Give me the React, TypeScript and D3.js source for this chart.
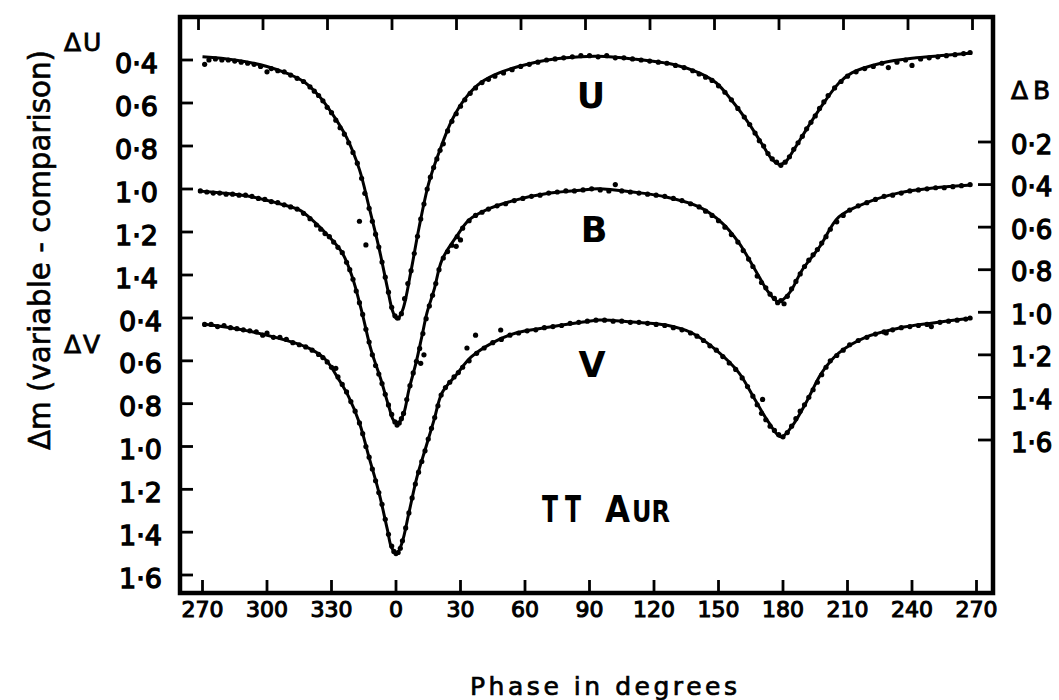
import React from "react";
import * as d3 from "d3";

// phase axis runs from 270 (= -90) through 0 to 270
const phaseTicks = [-90, -60, -30, 0, 30, 60, 90, 120, 150, 180, 210, 240, 270];
const uTicks = [0.4, 0.6, 0.8, 1.0, 1.2, 1.4];
const vTicks = [0.4, 0.6, 0.8, 1.0, 1.2, 1.4, 1.6];
const bTicks = [0.2, 0.4, 0.6, 0.8, 1.0, 1.2, 1.4, 1.6];

// fitted light curves, [phase, delta mag]
const uFit: [number, number][] = [
  [-90, 0.385], [-75, 0.4], [-60, 0.43], [-50, 0.465], [-43, 0.5], [-36, 0.565], [-30, 0.645],
  [-23, 0.76], [-17, 0.91], [-12.5, 1.085], [-8, 1.27], [-4, 1.46], [-1.5, 1.57], [0.5, 1.605],
  [3, 1.565], [7, 1.38], [10.7, 1.18], [15.3, 0.97], [20, 0.83], [26, 0.68], [32.5, 0.575],
  [39.5, 0.505], [48, 0.46], [63, 0.415], [79, 0.39], [94, 0.383], [110, 0.395], [130, 0.423],
  [141, 0.46], [149, 0.507], [156, 0.586], [164, 0.694], [170, 0.787], [174.5, 0.857], [178, 0.885],
  [181, 0.876], [184, 0.834], [190.7, 0.726], [196.7, 0.633], [206, 0.507], [212, 0.46],
  [226, 0.414], [242, 0.39], [257, 0.377], [268, 0.367],
];
const bFit: [number, number][] = [
  [-92, 0.43], [-69, 0.454], [-52, 0.496], [-45, 0.519], [-39, 0.566], [-31, 0.646], [-25, 0.721],
  [-20.5, 0.829], [-16, 0.993], [-11.6, 1.177], [-7, 1.317], [-3.3, 1.444], [-1, 1.51], [1.2, 1.52],
  [3.7, 1.472], [6, 1.364], [9.3, 1.238], [12, 1.115], [14.4, 1.003], [17.7, 0.895], [21.4, 0.754],
  [28, 0.646], [34, 0.566], [42, 0.519], [56, 0.472], [71.6, 0.44], [87, 0.425], [94, 0.42],
  [110, 0.435], [125.6, 0.458], [141, 0.505], [151.6, 0.58], [159.5, 0.674], [167, 0.8],
  [173.5, 0.909], [178, 0.951], [183, 0.909], [189, 0.8], [197, 0.693], [206, 0.552],
  [218.6, 0.486], [234, 0.439], [249.8, 0.416], [268, 0.402],
];
const vFit: [number, number][] = [
  [-90, 0.428], [-69, 0.46], [-46, 0.52], [-39, 0.549], [-32.6, 0.596], [-26.5, 0.689], [-22, 0.768],
  [-17, 0.89], [-12.6, 1.048], [-7.9, 1.216], [-4, 1.388], [-1.9, 1.475], [0.5, 1.496], [2.8, 1.449],
  [6, 1.31], [9.8, 1.141], [14, 1.0], [17.7, 0.876], [21.4, 0.75], [28, 0.666], [35, 0.582],
  [44.6, 0.517], [55.8, 0.47], [71.6, 0.442], [87, 0.419], [94.4, 0.409], [110, 0.419],
  [125.6, 0.433], [137.7, 0.47], [148.8, 0.549], [159.5, 0.656], [167, 0.782], [173.5, 0.89],
  [179, 0.955], [184, 0.908], [190.7, 0.796], [198, 0.656], [206, 0.563], [218.6, 0.489],
  [234, 0.447], [249.8, 0.423], [268, 0.4],
];

// observations
const uObs: [number, number][] = [
  [-89, 0.42], [-87, 0.4], [-84, 0.395], [-81, 0.4], [-78, 0.4], [-75, 0.405], [-72, 0.41], [-69, 0.415],
  [-66, 0.42], [-63, 0.43], [-60, 0.455], [-58, 0.44], [-55, 0.45], [-52, 0.455], [-49, 0.47],
  [-46, 0.485], [-43, 0.5], [-40, 0.525], [-38, 0.545], [-36, 0.565], [-34, 0.59], [-32, 0.62],
  [-30, 0.645], [-28, 0.68], [-26, 0.715], [-24, 0.745], [-22, 0.785], [-20, 0.83], [-18, 0.88],
  [-17, 1.15], [-16, 0.95], [-14, 1.26], [-14.5, 1.02], [-12.5, 1.09], [-11, 1.15], [-9.5, 1.21],
  [-8, 1.27], [-6.5, 1.34], [-5, 1.41], [-3.5, 1.48], [-2, 1.55], [-0.5, 1.59], [1, 1.6], [2.5, 1.58],
  [4, 1.51], [5.5, 1.44], [7, 1.38], [8.5, 1.3], [10, 1.22], [11.5, 1.14], [13, 1.07], [14.5, 1.0],
  [16, 0.945], [17.5, 0.9], [19, 0.86], [20.5, 0.82], [22, 0.79], [24, 0.73], [26, 0.685], [28, 0.65],
  [30, 0.615], [32, 0.585], [34.5, 0.555], [37, 0.53], [40, 0.505], [43, 0.49], [46, 0.475], [50, 0.46],
  [54, 0.445], [58, 0.43], [62, 0.42], [66, 0.41], [70, 0.4], [74, 0.395], [78, 0.39], [82, 0.385],
  [86, 0.38], [90, 0.38], [94, 0.385], [98, 0.38], [102, 0.39], [106, 0.39], [110, 0.395], [114, 0.4],
  [118, 0.405], [122, 0.41], [126, 0.415], [130, 0.425], [134, 0.435], [138, 0.45], [141, 0.465],
  [144, 0.48], [147, 0.495], [150, 0.52], [153, 0.55], [156, 0.585], [159, 0.625], [162, 0.665],
  [164.5, 0.7], [167, 0.74], [169, 0.775], [171, 0.8], [173, 0.835], [175, 0.86], [177, 0.875],
  [179, 0.89], [181, 0.875], [183, 0.85], [185, 0.815], [187, 0.785], [189, 0.755], [191, 0.72],
  [193, 0.69], [195, 0.66], [197, 0.625], [199, 0.595], [201, 0.565], [204, 0.53], [207, 0.5],
  [210, 0.475], [214, 0.455], [218, 0.44], [222, 0.43], [226, 0.415], [229, 0.435], [233, 0.41],
  [237, 0.4], [240, 0.425], [244, 0.395], [248, 0.39], [252, 0.385], [256, 0.38], [260, 0.375],
  [264, 0.37], [267, 0.365],
];
const bObs: [number, number][] = [
  [-91, 0.43], [-88, 0.435], [-85, 0.44], [-82, 0.44], [-79, 0.445], [-76, 0.445], [-73, 0.45],
  [-70, 0.45], [-67, 0.455], [-64, 0.465], [-61, 0.47], [-58, 0.48], [-55, 0.485], [-52, 0.495],
  [-49, 0.505], [-46, 0.515], [-43, 0.535], [-40, 0.56], [-37, 0.59], [-35, 0.61], [-33, 0.63],
  [-31, 0.645], [-29, 0.67], [-27, 0.695], [-25, 0.72], [-23, 0.765], [-21.5, 0.8], [-20, 0.845],
  [-18.5, 0.9], [-17, 0.955], [-15.5, 1.01], [-14, 1.08], [-12.5, 1.14], [-11, 1.2], [-9.5, 1.25],
  [-8, 1.29], [-6.5, 1.335], [-5, 1.385], [-3.5, 1.435], [-2, 1.48], [-0.5, 1.515], [0.5, 1.53],
  [1.5, 1.52], [2.5, 1.5], [3.5, 1.475], [5, 1.41], [6.5, 1.345], [8, 1.285], [9.5, 1.23], [11, 1.17],
  [11.5, 1.24], [12.5, 1.1], [13, 1.2], [14, 1.03], [15.5, 0.97], [17, 0.92], [18.5, 0.865], [20, 0.8],
  [22, 0.745], [24, 0.715], [26, 0.685], [28, 0.69], [28.5, 0.645], [30, 0.66], [31, 0.605],
  [34, 0.57], [37, 0.545], [40, 0.53], [43, 0.515], [47, 0.5], [51, 0.49], [55, 0.475], [59, 0.465],
  [63, 0.455], [67, 0.45], [71, 0.44], [75, 0.435], [79, 0.43], [83, 0.43], [87, 0.425], [91, 0.42],
  [95, 0.425], [99, 0.43], [102, 0.4], [105, 0.43], [109, 0.435], [113, 0.44], [117, 0.445],
  [121, 0.45], [125, 0.455], [129, 0.465], [133, 0.475], [137, 0.49], [141, 0.505], [144, 0.525],
  [147, 0.545], [150, 0.57], [153, 0.6], [156, 0.635], [159, 0.67], [161.5, 0.71], [164, 0.75],
  [166, 0.785], [168, 0.83], [170, 0.86], [172, 0.885], [174, 0.915], [176, 0.935], [177.5, 0.955],
  [179, 0.945], [180.5, 0.96], [182, 0.925], [184, 0.89], [186, 0.855], [188, 0.82], [190, 0.785],
  [192, 0.755], [194, 0.73], [196, 0.705], [198, 0.675], [200, 0.645], [202, 0.61], [205, 0.575],
  [208, 0.545], [211, 0.52], [215, 0.5], [219, 0.485], [223, 0.47], [227, 0.455], [231, 0.45],
  [235, 0.44], [239, 0.43], [243, 0.425], [247, 0.42], [251, 0.415], [255, 0.415], [259, 0.41],
  [263, 0.405], [267, 0.4],
];
const vObs: [number, number][] = [
  [-89, 0.43], [-86, 0.43], [-83, 0.44], [-80, 0.435], [-77, 0.445], [-74, 0.45], [-71, 0.455],
  [-68, 0.46], [-65, 0.465], [-62, 0.48], [-60, 0.47], [-57, 0.49], [-54, 0.49], [-51, 0.5],
  [-48, 0.515], [-45, 0.525], [-42, 0.535], [-39, 0.55], [-36, 0.57], [-34, 0.585], [-32, 0.605],
  [-30, 0.63], [-28, 0.635], [-27, 0.675], [-25, 0.71], [-23, 0.745], [-21, 0.79], [-19, 0.835],
  [-17, 0.89], [-15.5, 0.94], [-14, 1.0], [-12.5, 1.05], [-11, 1.105], [-9.5, 1.16], [-8, 1.215],
  [-6.5, 1.27], [-5, 1.34], [-3.5, 1.41], [-2, 1.465], [-1, 1.49], [0, 1.5], [1, 1.495], [2, 1.475],
  [3, 1.44], [4.5, 1.38], [6, 1.31], [7.5, 1.24], [9, 1.175], [10.5, 1.12], [12, 1.07], [13.5, 1.02],
  [15, 0.965], [16.5, 0.915], [18, 0.865], [19.5, 0.81], [21, 0.76], [23, 0.725], [25, 0.7],
  [27, 0.675], [29, 0.655], [31, 0.63], [33, 0.54], [34, 0.6], [37, 0.48], [37.5, 0.565], [41, 0.54],
  [45, 0.515], [48.7, 0.456], [49, 0.5], [53, 0.48], [57, 0.47], [61, 0.46], [65, 0.455], [69, 0.445],
  [73, 0.44], [77, 0.435], [81, 0.425], [85, 0.42], [89, 0.415], [93, 0.41], [97, 0.41], [101, 0.415],
  [105, 0.415], [109, 0.42], [113, 0.42], [117, 0.425], [121, 0.43], [125, 0.435], [129, 0.445],
  [133, 0.455], [137, 0.47], [140, 0.485], [143, 0.505], [146, 0.53], [149, 0.55], [152, 0.58],
  [155, 0.61], [158, 0.64], [161, 0.68], [163.5, 0.72], [166, 0.765], [168, 0.805], [170, 0.845],
  [170.5, 0.78], [172, 0.875], [174, 0.905], [176, 0.925], [178, 0.945], [180, 0.955], [182, 0.935],
  [184, 0.905], [186, 0.87], [188, 0.835], [190, 0.805], [192, 0.77], [194, 0.735], [196, 0.7],
  [198, 0.665], [200, 0.63], [202, 0.6], [205, 0.575], [208, 0.55], [211, 0.525], [215, 0.505],
  [219, 0.49], [223, 0.475], [227, 0.465], [228, 0.47], [231, 0.455], [235, 0.445], [239, 0.44],
  [243, 0.435], [247, 0.43], [249, 0.44], [253, 0.42], [257, 0.415], [261, 0.41], [265, 0.405],
  [267, 0.4],
];

const FONT = "'DejaVu Sans', sans-serif";

export default function App() {
  const width = 1059;
  const height = 700;
  const frame = { left: 180, right: 993, top: 17, bottom: 593 };

  const x = d3.scaleLinear().domain([-90, 270]).range([202.5, 976.5]);
  const yU = d3.scaleLinear().domain([0.4, 1.4]).range([60, 275]);
  const yV = d3.scaleLinear().domain([0.4, 1.6]).range([318, 575]);
  const yB = d3.scaleLinear().domain([0.2, 1.6]).range([142, 440]);

  const fmt = (v: number) => d3.format(".1f")(v).replace(".", "\u00b7");
  const phaseLabel = (p: number) => String(p < 0 ? p + 360 : p);

  const makeLine = (y: d3.ScaleLinear<number, number>) =>
    d3.line<[number, number]>()
      .x(d => x(d[0]))
      .y(d => y(d[1]))
      .curve(d3.curveCatmullRom.alpha(0.5));

  const series = [
    { fit: uFit, obs: uObs, y: yU, key: "u" },
    { fit: bFit, obs: bObs, y: yB, key: "b" },
    { fit: vFit, obs: vObs, y: yV, key: "v" },
  ];

  return (
    <svg width={width} height={height} style={{ position: "absolute", left: 0, top: 0, background: "#fff" }}>
      <rect x={0} y={0} width={width} height={height} fill="#fff" />

      {/* frame */}
      <rect x={frame.left} y={frame.top} width={frame.right - frame.left} height={frame.bottom - frame.top}
        fill="none" stroke="#000" strokeWidth={4.5} />

      {/* phase ticks, bottom and top */}
      <g stroke="#000" strokeWidth={2.8}>
        {phaseTicks.map(p => (
          <line key={"b" + p} x1={x(p)} x2={x(p)} y1={frame.bottom} y2={frame.bottom - 13} />
        ))}
        {phaseTicks.map(p => (
          <line key={"t" + p} x1={x(p) - 4} x2={x(p) - 4} y1={frame.top} y2={frame.top + 13} />
        ))}
      </g>
      <g fontFamily={FONT} fontSize={22} textAnchor="middle" fill="#000" stroke="#000" strokeWidth={1.1}>
        {phaseTicks.map(p => (
          <text key={p} x={x(p)} y={617}>{phaseLabel(p)}</text>
        ))}
      </g>

      {/* left axis: delta U and delta V */}
      <g stroke="#000" strokeWidth={2.8}>
        {uTicks.map(v => <line key={"u" + v} x1={frame.left} x2={frame.left + 13} y1={yU(v)} y2={yU(v)} />)}
        {vTicks.map(v => <line key={"v" + v} x1={frame.left} x2={frame.left + 13} y1={yV(v)} y2={yV(v)} />)}
      </g>
      <g fontFamily={FONT} fontSize={27} textAnchor="end" fill="#000" stroke="#000" strokeWidth={1.3}>
        {uTicks.map(v => <text key={"u" + v} x={158} y={yU(v) + 12.5}>{fmt(v)}</text>)}
        {vTicks.map(v => <text key={"v" + v} x={162} y={yV(v) + 12.5}>{fmt(v)}</text>)}
      </g>
      <g fontFamily={FONT} fontSize={25} fill="#000" stroke="#000" strokeWidth={0.8}>
        <text x={64} y={51} letterSpacing={2}>ΔU</text>
        <text x={64} y={353} letterSpacing={2}>ΔV</text>
        <text x={1011} y={99} letterSpacing={5}>ΔB</text>
      </g>

      {/* right axis: delta B */}
      <g stroke="#000" strokeWidth={2.8}>
        {bTicks.map(v => <line key={v} x1={frame.right - 15} x2={frame.right} y1={yB(v)} y2={yB(v)} />)}
      </g>
      <g fontFamily={FONT} fontSize={26} fill="#000" stroke="#000" strokeWidth={1.3}>
        {bTicks.map(v => <text key={v} x={1011} y={yB(v) + 11.5}>{fmt(v)}</text>)}
      </g>

      {/* curves and observations */}
      {series.map(s => (
        <g key={s.key}>
          <path d={makeLine(s.y)(s.fit) || ""} fill="none" stroke="#000" strokeWidth={3} strokeLinejoin="round" />
          {s.obs.map((d, i) => (
            <circle key={i} cx={x(d[0])} cy={s.y(d[1])} r={2.6} fill="#000" />
          ))}
        </g>
      ))}

      {/* band labels */}
      <g fontFamily={FONT} fontSize={35} fontWeight="bold" textAnchor="middle" fill="#000">
        <text x={591} y={108}>U</text>
        <text x={594} y={242}>B</text>
        <text x={592} y={377}>V</text>
      </g>
      <g fontFamily={FONT} fontWeight="bold" fill="#000">
        <text x={542} y={522} fontSize={37} textLength={16} lengthAdjust="spacingAndGlyphs">T</text>
        <text x={565} y={522} fontSize={37} textLength={16} lengthAdjust="spacingAndGlyphs">T</text>
        <text x={605} y={522} fontSize={37} textLength={25} lengthAdjust="spacingAndGlyphs">A</text>
        <text x={632} y={522} fontSize={30} textLength={38} lengthAdjust="spacingAndGlyphs">UR</text>
      </g>

      {/* axis titles */}
      <text x={470} y={695} fontFamily={FONT} fontSize={25} textLength={267} lengthAdjust="spacing"
        fill="#000" stroke="#000" strokeWidth={0.7}>Phase in degrees</text>
      <text transform="translate(50,250) rotate(-90)" textAnchor="middle" fontFamily={FONT} fontSize={30}
        textLength={400} lengthAdjust="spacingAndGlyphs" fill="#000" stroke="#000" strokeWidth={0.6}>
        Δm (variable - comparison)
      </text>
    </svg>
  );
}
